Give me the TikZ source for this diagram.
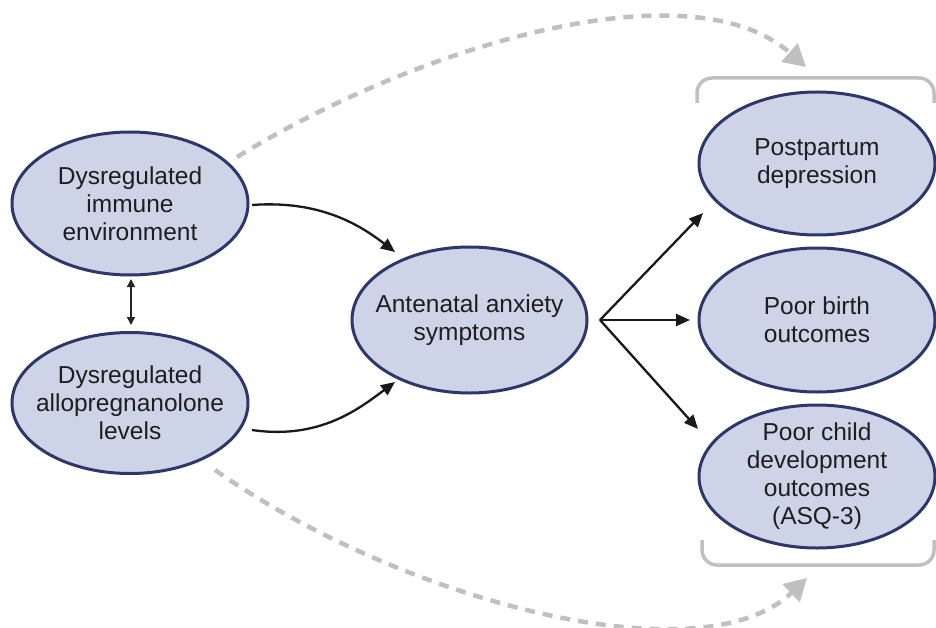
\documentclass[tikz,border=0pt]{standalone}
\usepackage{fontspec}
\setmainfont{Liberation Sans}
\usetikzlibrary{shapes.geometric,arrows.meta}
\definecolor{ellfill}{RGB}{206,212,232}
\definecolor{elldraw}{RGB}{46,56,104}
\definecolor{txt}{RGB}{30,30,30}
\definecolor{lgray}{RGB}{192,192,192}
\tikzset{
  bubble/.style={ellipse, draw=elldraw, fill=ellfill, line width=3pt, inner sep=-25pt,
    text=txt, align=center, font=\fontsize{24.5}{28}\selectfont},
  blackarrow/.style={draw=black!90, line width=2.3pt, -{Triangle[length=14pt,width=12pt]}},
  grayarrow/.style={draw=lgray, line width=4.5pt, dash pattern=on 10pt off 8pt,
    -{Triangle[length=22pt,width=24pt]}},
  bracketline/.style={draw=lgray, line width=3.5pt, rounded corners=15pt},
}
\begin{document}
\begin{tikzpicture}[x=1pt,y=-1pt]
\useasboundingbox (0,0) rectangle (936,628);
% nodes
\node[bubble, minimum width=236pt, minimum height=143pt] (imm) at (130,203.5) {Dysregulated\\immune\\environment};
\node[bubble, minimum width=236pt, minimum height=141pt] (allo) at (130,403) {Dysregulated\\allopregnanolone\\levels};
\node[bubble, minimum width=235pt, minimum height=146pt] (anx) at (469.5,320) {Antenatal anxiety\\symptoms};
\node[bubble, minimum width=236pt, minimum height=143pt] (ppd) at (817,163.5) {Postpartum\\depression};
\node[bubble, minimum width=236pt, minimum height=144pt] (pbo) at (817,320) {Poor birth\\outcomes};
\node[bubble, minimum width=236pt, minimum height=143pt] (pcd) at (817,476.5) {Poor child\\development\\outcomes\\(ASQ-3)};
% brackets
\draw[bracketline] (697,103) -- (697,78) -- (934,78) -- (934,103);
\draw[bracketline] (702,540) -- (702,565) -- (934,565) -- (934,540);
% coordinates
\coordinate (immout) at (252,205);
\coordinate (alloout) at (252,430);
\coordinate (anxin1) at (395,252);
\coordinate (anxin2) at (395,382);
\coordinate (fan) at (600,320);
\coordinate (ppdin) at (703,213);
\coordinate (pboin) at (690,320);
\coordinate (pcdin) at (698,429);
\coordinate (dtop) at (237,157);
\coordinate (dtopend) at (806,67);
\coordinate (dbot) at (215,470);
\coordinate (dbotend) at (807,578);
\coordinate (dblA) at (131,279);
\coordinate (dblB) at (131,325);
% connectors
\draw[blackarrow] (immout) .. controls (320,200) and (360,225) .. (anxin1);
\draw[blackarrow] (alloout) .. controls (320,440) and (360,408) .. (anxin2);
\draw[blackarrow] (fan) -- (ppdin);
\draw[blackarrow] (fan) -- (pboin);
\draw[blackarrow] (fan) -- (pcdin);
\draw[draw=black!85, line width=1.5pt, {Triangle[length=8pt,width=8pt]}-{Triangle[length=8pt,width=8pt]}] (dblA) -- (dblB);
\draw[grayarrow] (dtop) .. controls (420,45) and (690,-35) .. (dtopend);
\draw[grayarrow] (dbot) .. controls (400,600) and (700,680) .. (dbotend);
\end{tikzpicture}
\end{document}
